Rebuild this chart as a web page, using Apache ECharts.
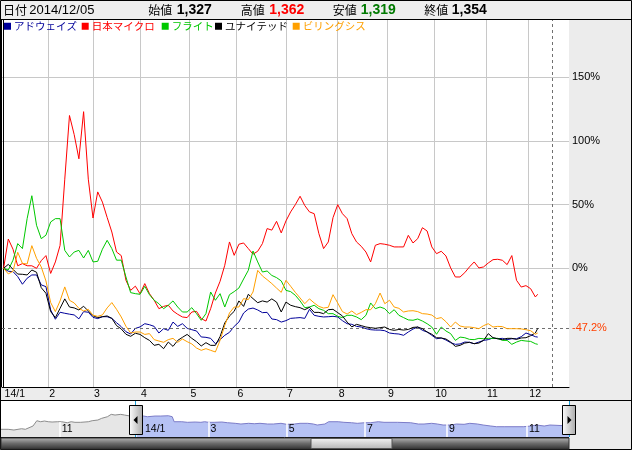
<!DOCTYPE html>
<html><head><meta charset="utf-8">
<script src="https://cdn.jsdelivr.net/npm/echarts@6/dist/echarts.min.js"></script>
<style>html,body{margin:0;padding:0;background:#fff}#c{width:632px;height:450px}</style>
</head><body><div id="c"></div>
<script>
// ---- header ----
const headerDate = '2014/12/05';
const headerLabels = ['始値', '高値', '安値', '終値'];
const headerValues = ['1,327', '1,362', '1,319', '1,354'];

// ---- series (percent change from 2014/1 start, one point every 2 trading days) ----
const seriesNames = ['アドウェイズ', '日本マイクロ', 'フライト', 'ユナイテッド', 'ビリングシス'];
const adways = [0,-2.3,-2.6,-6.5,-12.5,-7.8,-5.2,-5.2,-13,-14.4,-32.7,-40,-34.5,-35.3,-36,-36.6,-39.7,-34,-34.5,-38.5,-39.5,-38,-38,-39.3,-42.7,-45.8,-49.8,-51.6,-47.2,-46,
 -43.5,-44.3,-45.6,-50.8,-47.4,-48.7,-42.2,-45.6,-43.5,-47.1,-48.2,-49.2,-53.9,-54.2,-55,-59.2,-56,-52.6,-50.3,-45.6,-42.2,-35.1,-32,-31.2,-32.7,-34.8,-34.6,-39.8,
 -40.3,-42.2,-41.1,-39.3,-39,-38.7,-39.3,-32.2,-36.9,-37.7,-38.2,-38,-37.7,-38.2,-41.1,-43.5,-44,-45.6,-46.1,-47.4,-48.2,-48.5,-48.5,-49,-50.8,-51.3,-51.6,-52.6,
 -50,-47.7,-46.1,-48.7,-50,-52.6,-55.3,-54.7,-56.3,-58.4,-59.7,-59.4,-57.9,-58.1,-59.2,-57.9,-56.6,-56,-54.7,-55.3,-55,-56,-55.3,-55.3,-53.7,-50.8,-52.1,-53.7,-54];
const nihonMicro = [0,23,15,2,3.7,2,2,0,6,10,-4,5,18,70,120,105,86,123,70,39.5,60,52,40,28.5,12.8,10,-9.4,-17.3,-14,-20,
 -12,-19.9,-25.1,-31.7,-29.9,-29,-33.5,-36.1,-38.2,-38.7,-34.3,-33.8,-39.5,-41.4,-31.7,-19.4,-10.2,2.4,20.7,10.2,18.9,19.9,15.5,11.1,13.4,19.4,31.2,30,
 36.9,27.8,37.2,44.3,50,56.6,49.3,44.3,42.9,27.2,15.5,20.7,39.8,50,42.9,39,27.2,20.7,17.3,12.8,5,18.1,19.4,18.9,18.1,16.8,16.8,16.8,
 25.9,19.9,23.3,31.9,29.3,16.8,11.5,13.4,9.7,0.3,-6.8,-6.8,-3.4,1.1,5,0.3,1.1,4.2,6.8,7.1,6.3,2.9,10,-9.4,-14.7,-13.6,-16,-22.5,-20.4];
const flight = [0,-1.3,6.4,19.4,15.5,39,57,33.8,23.3,26,36.4,39,39,14.1,8.9,12.8,14.1,8.1,14.1,5,5.5,15,22,15.5,6.4,6.4,-6.8,-19.1,-19.9,-20.4,
 -14.1,-20.7,-25.1,-27.8,-31.7,-29,-25.6,-30.4,-34.3,-34.3,-30.9,-35.6,-40.8,-35.6,-18.6,-25.1,-19.9,-30.4,-20.7,-18.3,-15.5,-8.4,-1.6,13.6,5,-2.9,-2.1,-5.6,
 -7.3,-9.9,-17.3,-18.3,-21.2,-25.6,-30.9,-30.4,-29,-31.7,-33,-35.6,-35.6,-37.7,-38.7,-36.9,-36.9,-38.2,-40.3,-36.9,-27.2,-31.7,-30.4,-31.7,-35.6,-32.5,-36.9,-38.7,
 -40.5,-40.8,-39.8,-41.4,-43.5,-46.1,-51.8,-46.1,-49.2,-51.3,-56.6,-54,-54.5,-55.8,-56,-55,-55.3,-55,-55,-55,-56.6,-56.6,-59.7,-57.9,-56.6,-57.1,-57.4,-59.2,-59.7];
const united = [0,3.1,-0.8,-4.5,-4.7,-5.2,-1.3,-3.1,-15.2,-19.6,-34,-38.7,-31.4,-24,-30.4,-31.1,-32.7,-29.8,-33.5,-37.2,-38.7,-38,-37.4,-39.3,-45,-47.6,-51.8,-53.4,-51,-51.9,
 -54.5,-56.6,-60.5,-59.7,-63.1,-57.9,-61.3,-56.6,-54.2,-51.9,-55,-57.6,-61,-58.4,-60.5,-60.5,-53.6,-42.9,-37.4,-33.8,-25.6,-29.9,-20.4,-23.8,-27,-25.6,-26.5,-24,
 -26.5,-34.3,-26.5,-29,-30.1,-30.9,-32.5,-30.6,-34.6,-34.6,-35.6,-32.5,-32.2,-34.8,-37.4,-42.2,-46,-44,-45,-46.1,-46.6,-47.1,-46.6,-46.1,-48,-48.7,-48,-48.5,
 -48,-46.4,-46.1,-47.4,-50,-51.8,-54.5,-54.7,-55.5,-57.9,-61.3,-60.5,-58.7,-58.1,-59.2,-58.7,-56.6,-51.3,-54.5,-55.3,-56,-55,-55,-55.8,-54.7,-54.5,-52.9,-50.8,-47.2];
const billingSys = [0,-4.4,-2.3,12.6,3.9,3.4,17.8,7.9,1.1,-9.9,-26.9,-34,-25.6,-14.6,-25.1,-27.2,-31.4,-33.5,-32.2,-36.9,-37.7,-36.6,-31.1,-26.9,-32.2,-38.2,-45.5,-50.8,-50,-50,
 -51.9,-51.3,-56,-57.1,-58.1,-56,-55,-58.1,-55.5,-57.6,-59.4,-62.6,-64.4,-63.1,-64.4,-65.7,-56.6,-44.8,-35.1,-30.4,-30.4,-23.8,-24.6,-18.6,-1.6,-6,-8.9,-12,
 -15.5,-18.9,-9.4,-14.1,-18.9,-23.3,-27.8,-24,-27.2,-29.9,-31.2,-30.6,-20.7,-27.2,-34,-35.9,-33.5,-36.4,-34.6,-32.5,-32.5,-27.8,-19.4,-27.8,-25.1,-30.4,-31.4,-34.3,
 -33.5,-33.3,-34,-35.6,-35.9,-36.7,-39.5,-38.7,-41.9,-46.1,-42.2,-45.3,-46.1,-46.1,-46.6,-47.4,-45,-43.5,-46.1,-45.6,-45.8,-47.4,-47.4,-47.4,-47.6,-48.2,-49,-51.8,-50.8];
const seriesValues = [adways, nihonMicro, flight, united, billingSys];
const seriesColors = ['#000099', '#ff0000', '#00c800', '#000000', '#ffa000'];

// x positions: trading-day index from 2014/1/6 (every 2nd day, last = 12/5)
const lastDay = 227;
const days = adways.map((_, i) => Math.min(i * 2, lastDay));
const cursorDay = 233;

// month ticks (trading-day index of first trading day of each month)
const monthStarts = [0, 19, 38, 58, 79, 99, 120, 142, 163, 183, 205, 223];
const monthLabels = ['14/1', '2', '3', '4', '5', '6', '7', '8', '9', '10', '11', '12'];
const yTicks = [0, 50, 100, 150];

// ---- navigator (price) ----
const navPastDays = [-71,-67,-64,-60,-58,-57,-54,-52,-51,-50,-48,-46,-44,-43,-41,-39,-38,-36,-34,-32,-29,-25,-23,-22,-20,-18,-17,-15,-13,-11,-10,-8,-6,-3,0];
const navPastVals = [940,940,854,1013,940,1184,1342,1989,2074,1867,1952,1867,1830,1989,1867,1867,1794,1745,1867,1794,1794,1867,1989,1867,2074,2281,2477,2477,2769,2684,2599,2769,2684,2562,2562];
const navDays = [0,4,6,10,13,17,18,19,20,21,24,27,31,34,36,38,41,45,48,52,55,59,62,65,69,72,76,79,83,86,90,93,95,99,101,106,109,113,116,120,123,127,130,137,144,148,151,155,158,161,165,168,172,175,179,182,186,189,193,203,207,210,214,217,227];
const navVals = [2562,2562,2477,2562,2562,2599,2684,2477,1867,1745,1867,1794,1830,1794,1867,1794,1794,1830,1745,1672,1586,1672,1623,1672,1586,1586,1672,1550,1586,1672,1672,1586,1464,1586,1867,1867,1794,1745,1672,1745,1745,1867,1794,1794,1745,1586,1586,1672,1586,1464,1464,1586,1550,1672,1586,1464,1342,1257,1257,1257,1342,1464,1342,1464,1354];
const navTickDays = [-40, 0, 38, 79, 120, 163, 205];
const navTickLabels = ['11', '14/1', '3', '5', '7', '9', '11'];

const JP = '"Noto Sans CJK JP", sans-serif';
const LAT = '"Liberation Sans", Arial, sans-serif';

const chart = echarts.init(document.getElementById('c'), null, {renderer: 'canvas'});

const lastUnited = united[united.length - 1];

const lineSeries = seriesNames.map((name, s) => {
  const ser = {
    name, type: 'line', xAxisIndex: 0, yAxisIndex: 0,
    data: days.map((d, i) => [d, seriesValues[s][i]]),
    showSymbol: false, symbol: 'none',
    lineStyle: {width: 1, color: seriesColors[s]},
    itemStyle: {color: seriesColors[s]},
    emphasis: {disabled: true}, z: 2 + s
  };
  if (name === 'ユナイテッド') {
    ser.markLine = {
      silent: true, symbol: 'none', animation: false,
      lineStyle: {color: '#707070', type: [3, 3], width: 1},
      data: [
        {yAxis: lastUnited, label: {show: true, position: 'end', distance: 3, formatter: p => p.value + '%', color: '#ff4000', fontSize: 11, fontFamily: LAT}},
        {xAxis: cursorDay, label: {show: false}}
      ]
    };
  }
  return ser;
});

const legendLefts = [4, 81.7, 161.7, 215, 292.7];
const legends = seriesNames.map((name, s) => ({
  data: [name], left: legendLefts[s], top: 21, padding: 0, itemGap: 0,
  icon: 'rect', itemWidth: 7, itemHeight: 7, selectedMode: false,
  textStyle: {color: seriesColors[s], fontSize: 10.5, fontFamily: JP, padding: [0, 0, 0, -2]}
}));

const headerX = [148.3, 240.7, 332.7, 424.3];
const valueX = [176.7, 269.3, 360.7, 451.7];
const valueColors = ['#000', '#ff0000', '#007a00', '#000'];
const graphics = [
  {type: 'rect', shape: {x: 0, y: 0, width: 632, height: 20}, style: {fill: '#eeeeee'}, z: -10},
  {type: 'rect', shape: {x: 569, y: 20, width: 63, height: 430}, style: {fill: '#ececec'}, z: -10},
  {type: 'rect', shape: {x: 0, y: 387, width: 632, height: 13}, style: {fill: '#ececec'}, z: -10},
  {type: 'text', x: 3, y: 10.5, style: {text: '日付', font: '12px ' + JP, fill: '#000', verticalAlign: 'middle'}, z: 50},
  {type: 'text', x: 29.3, y: 10.5, style: {text: headerDate, font: '13px ' + LAT, fill: '#000', verticalAlign: 'middle'}, z: 50},
];
headerLabels.forEach((t, i) => {
  graphics.push({type: 'text', x: headerX[i], y: 10.5, style: {text: t, font: '12px ' + JP, fill: '#000', verticalAlign: 'middle'}, z: 50});
  graphics.push({type: 'text', x: valueX[i], y: 10.5, style: {text: headerValues[i], font: 'bold 14px ' + LAT, fill: valueColors[i], verticalAlign: 'middle'}, z: 50});
});
// borders
const L = (x1, y1, x2, y2, w, c) => ({type: 'line', shape: {x1, y1, x2, y2}, style: {stroke: c || '#000', lineWidth: w || 1}, z: 60});
graphics.push(
  L(0, 19.5, 632, 19.5),
  L(1, 20, 1, 387, 2),
  L(0, 400.5, 632, 400.5),
  L(0, 437.5, 569, 437.5),
  {type: 'rect', shape: {x: 0.5, y: 0.5, width: 631, height: 449}, style: {fill: null, stroke: '#000', lineWidth: 1}, z: 60},
  L(569.5, 401, 569.5, 437, 1, '#1a9fd8'),
  L(135.5, 401, 135.5, 437, 1, '#1a9fd8')
);
// scrollbar
graphics.push(
  {type: 'rect', shape: {x: 1, y: 438, width: 568, height: 11},
   style: {fill: new echarts.graphic.LinearGradient(0, 0, 0, 1, [{offset: 0, color: '#b8b8b8'}, {offset: 0.5, color: '#6a6a6a'}, {offset: 1, color: '#303030'}]), stroke: '#333', lineWidth: 1}, z: 70},
  {type: 'rect', shape: {x: 311, y: 438.5, width: 81, height: 10},
   style: {fill: new echarts.graphic.LinearGradient(0, 0, 0, 1, [{offset: 0, color: '#f4f4f4'}, {offset: 1, color: '#b4b4b4'}]), stroke: '#555', lineWidth: 1}, z: 71}
);
// navigator handles
const handle = (x, dir) => [
  {type: 'rect', shape: {x: x, y: 405.5, width: 13, height: 29},
   style: {fill: new echarts.graphic.LinearGradient(0, 0, 1, 0, [{offset: 0, color: '#ffffff'}, {offset: 1, color: '#a8a8a8'}]), stroke: '#000', lineWidth: 1}, z: 80},
  {type: 'polygon', shape: {points: dir < 0 ? [[x + 4, 420], [x + 8, 416], [x + 8, 424]] : [[x + 9, 420], [x + 5, 416], [x + 5, 424]]}, style: {fill: '#000'}, z: 81}
];
graphics.push(...handle(129.5, -1), ...handle(562.5, 1));

const option = {
  animation: false,
  backgroundColor: '#ffffff',
  legend: legends,
  grid: [
    {left: 2, top: 20, width: 567, height: 367, show: false},
    {left: 0, top: 401, width: 569, height: 36, show: false}
  ],
  xAxis: [
    {type: 'value', gridIndex: 0, min: -0.68, max: 240.3,
     axisLine: {show: true, onZero: false, lineStyle: {color: '#000', width: 1}},
     axisTick: {show: false, customValues: monthStarts.slice(1)},
     splitLine: {show: true, lineStyle: {color: '#c8c8c8', width: 1}},
     axisLabel: {customValues: monthStarts, formatter: v => monthLabels[monthStarts.indexOf(v)],
       align: 'left', margin: 2, padding: [0, 0, 0, 1], fontSize: 10.5, fontFamily: LAT, color: '#000', showMinLabel: true, hideOverlap: false}},
    {type: 'value', gridIndex: 1, min: -71.3, max: lastDay, z: 5,
     axisLine: {show: false},
     axisTick: {show: true, inside: true, length: 15, customValues: navTickDays, lineStyle: {color: '#ffffff', width: 1.5}},
     splitLine: {show: false},
     axisLabel: {inside: true, customValues: navTickDays, margin: 2, align: 'left',
       formatter: v => { const t = navTickLabels[navTickDays.indexOf(v)]; return v === 0 ? '{a|' + t + '}' : t; },
       rich: {a: {padding: [0, 0, 0, 7], fontSize: 10.5, fontFamily: LAT, color: '#000'}},
       padding: [0, 0, 0, 2], fontSize: 10.5, fontFamily: LAT, color: '#000', showMinLabel: true, hideOverlap: false}}
  ],
  yAxis: [
    {type: 'value', gridIndex: 0, position: 'right', min: -93.2, max: 195,
     axisLine: {show: true, lineStyle: {color: '#000', width: 1}},
     axisTick: {show: false, customValues: yTicks},
     splitLine: {show: true, lineStyle: {color: '#c8c8c8', width: 1}},
     axisLabel: {customValues: yTicks, formatter: '{value}%', margin: 3, fontSize: 11, fontFamily: LAT, color: '#000'}},
    {type: 'value', gridIndex: 1, min: 0, max: 4400, show: false}
  ],
  series: [
    ...lineSeries,
    {name: 'nav-past', type: 'line', xAxisIndex: 1, yAxisIndex: 1, showSymbol: false, symbol: 'none',
     data: navPastDays.map((d, i) => [d, navPastVals[i]]),
     lineStyle: {width: 1, color: '#8c8c8c'}, areaStyle: {color: '#e6e6e6', opacity: 1}, z: 1},
    {name: 'nav', type: 'line', xAxisIndex: 1, yAxisIndex: 1, showSymbol: false, symbol: 'none',
     data: navDays.map((d, i) => [d, navVals[i]]),
     lineStyle: {width: 1, color: '#7c7cc8'}, areaStyle: {color: '#b6c2f4', opacity: 1}, z: 1}
  ],
  graphic: {elements: graphics}
};
chart.setOption(option);
</script></body></html>
